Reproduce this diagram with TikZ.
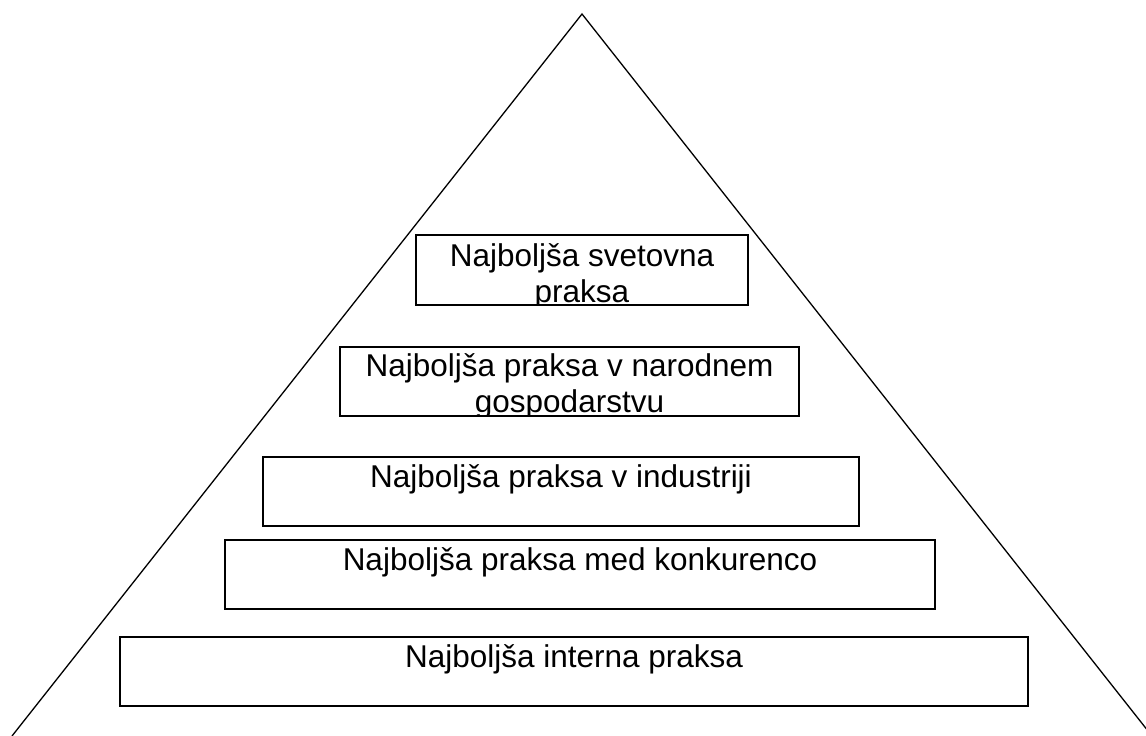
\documentclass[tikz,border=0pt]{standalone}
\usepackage{fontspec}
\setmainfont{Liberation Sans}
\pgfdeclarelayer{textlayer}
\pgfsetlayers{textlayer,main}
\begin{document}
\begin{tikzpicture}[x=1pt,y=-1pt,
  boxstyle/.style={draw=black, line width=1.6pt, rectangle, inner sep=0pt, outer sep=0pt},
  labelstyle/.style={font=\fontsize{31.5}{36}\selectfont, align=center, inner sep=0pt, anchor=base},
  side/.style={line width=1.3pt, line join=miter}]
\useasboundingbox (0,0) rectangle (1146,736);
% pyramid sides
\coordinate (apex) at (582,14);
\coordinate (bl) at (12,736);
\coordinate (br) at (1152,736);
\begin{scope}
  \clip (0,0) rectangle (1146,736);
  \draw[side] (bl) -- (apex) -- (br);
\end{scope}
% boxes
\node[boxstyle, minimum width=332pt, minimum height=70pt] (b1) at (582,270) {};
\node[boxstyle, minimum width=459pt, minimum height=69pt] (b2) at (569.5,381.5) {};
\node[boxstyle, minimum width=596pt, minimum height=69pt] (b3) at (561,491.5) {};
\node[boxstyle, minimum width=710pt, minimum height=69pt] (b4) at (580,574.5) {};
\node[boxstyle, minimum width=908pt, minimum height=69pt] (b5) at (574,671.5) {};
% texts (clipped to their boxes); base anchor = baseline of the last line
\begin{pgfonlayer}{textlayer}
  \begin{scope}
    \clip (b1.south west) rectangle (b1.north east);
    \node[labelstyle] (t1) at ([yshift=-67pt]b1.north) {Najboljša svetovna\\praksa};
  \end{scope}
  \begin{scope}
    \clip (b2.south west) rectangle (b2.north east);
    \node[labelstyle] (t2) at ([yshift=-65pt]b2.north) {Najboljša praksa v narodnem\\gospodarstvu};
  \end{scope}
  \begin{scope}
    \clip (b3.south west) rectangle (b3.north east);
    \node[labelstyle] (t3) at ([yshift=-30pt]b3.north) {Najboljša praksa v industriji};
  \end{scope}
  \begin{scope}
    \clip (b4.south west) rectangle (b4.north east);
    \node[labelstyle] (t4) at ([yshift=-30pt]b4.north) {Najboljša praksa med konkurenco};
  \end{scope}
  \begin{scope}
    \clip (b5.south west) rectangle (b5.north east);
    \node[labelstyle] (t5) at ([yshift=-30pt]b5.north) {Najboljša interna praksa};
  \end{scope}
\end{pgfonlayer}
\end{tikzpicture}
\end{document}
